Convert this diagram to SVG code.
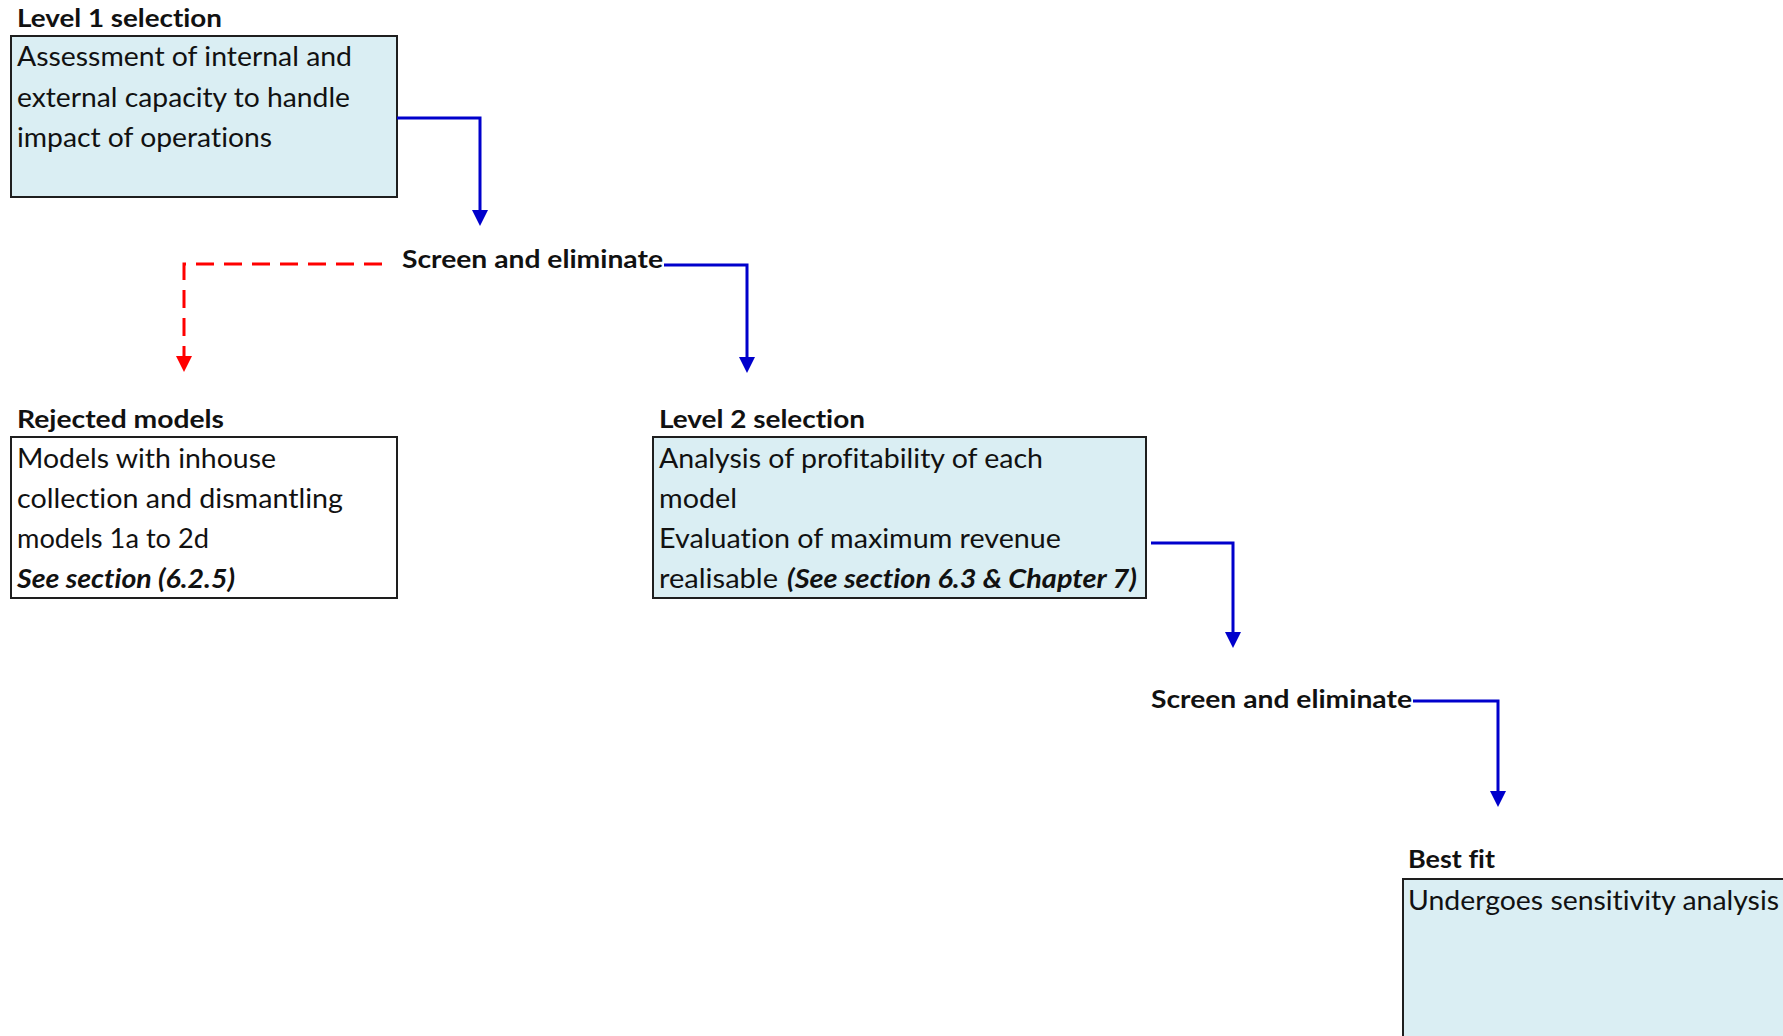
<svg xmlns="http://www.w3.org/2000/svg" width="1783" height="1036" viewBox="0 0 1783 1036">
  <style>
    .bg { fill: #ffffff; }
    .box { stroke: #1e1e1e; stroke-width: 2; }
    .blue { fill: #DAEEF3; }
    .white { fill: #ffffff; }
    text { font-variant-ligatures: none; }
    .title { font-family: Lato, "Open Sans", "Liberation Sans", sans-serif; font-weight: bold; font-size: 25px; fill: #111111; }
    .body { font-family: Lato, "Open Sans", "Liberation Sans", sans-serif; font-size: 26px; fill: #111111; }
    .ref { font-family: Lato, "Open Sans", "Liberation Sans", sans-serif; font-size: 26px; font-weight: bold; font-style: italic; fill: #111111; }
    .flow { fill: none; stroke: #0000CC; stroke-width: 3; }
    .reject { fill: none; stroke: #FF0000; stroke-width: 3; stroke-dasharray: 18 10; }
  </style>
  <defs>
    <marker id="arrowBlue" viewBox="0 0 16 16" markerWidth="16" markerHeight="16" markerUnits="userSpaceOnUse" refX="1" refY="8" orient="auto">
      <path d="M0,0 L16,8 L0,16 z" fill="#0000CC"/>
    </marker>
    <marker id="arrowRed" viewBox="0 0 16 16" markerWidth="16" markerHeight="16" markerUnits="userSpaceOnUse" refX="1" refY="8" orient="auto">
      <path d="M0,0 L16,8 L0,16 z" fill="#FF0000"/>
    </marker>
  </defs>

  <rect class="bg" x="0" y="0" width="1783" height="1036"/>

  <!-- Level 1 selection -->
  <g id="level1">
    <text class="title" x="17" y="27" textLength="205" lengthAdjust="spacingAndGlyphs">Level 1 selection</text>
    <rect class="box blue" x="11" y="36" width="386" height="161"/>
    <text class="body" x="17" y="66" textLength="335" lengthAdjust="spacingAndGlyphs">Assessment of internal and</text>
    <text class="body" x="17" y="107" textLength="333" lengthAdjust="spacingAndGlyphs">external capacity to handle</text>
    <text class="body" x="17" y="147" textLength="255" lengthAdjust="spacingAndGlyphs">impact of operations</text>
  </g>

  <!-- First screening step -->
  <g id="screen1">
    <text class="title" x="402" y="268" textLength="261" lengthAdjust="spacingAndGlyphs">Screen and eliminate</text>
  </g>

  <!-- Rejected models -->
  <g id="rejected">
    <text class="title" x="17" y="428" textLength="207" lengthAdjust="spacingAndGlyphs">Rejected models</text>
    <rect class="box white" x="11" y="437" width="386" height="161"/>
    <text class="body" x="17" y="468" textLength="259" lengthAdjust="spacingAndGlyphs">Models with inhouse</text>
    <text class="body" x="17" y="508" textLength="326" lengthAdjust="spacingAndGlyphs">collection and dismantling</text>
    <text class="body" x="17" y="548" textLength="192" lengthAdjust="spacingAndGlyphs">models 1a to 2d</text>
    <text class="ref" x="17" y="588" textLength="218" lengthAdjust="spacingAndGlyphs">See section (6.2.5)</text>
  </g>

  <!-- Level 2 selection -->
  <g id="level2">
    <text class="title" x="659" y="428" textLength="206" lengthAdjust="spacingAndGlyphs">Level 2 selection</text>
    <rect class="box blue" x="653" y="437" width="493" height="161"/>
    <text class="body" x="659" y="468" textLength="384" lengthAdjust="spacingAndGlyphs">Analysis of profitability of each</text>
    <text class="body" x="659" y="508" textLength="78" lengthAdjust="spacingAndGlyphs">model</text>
    <text class="body" x="659" y="548" textLength="402" lengthAdjust="spacingAndGlyphs">Evaluation of maximum revenue</text>
    <text class="body" x="659" y="588" textLength="119" lengthAdjust="spacingAndGlyphs">realisable</text>
    <text class="ref" x="787" y="588" textLength="350" lengthAdjust="spacingAndGlyphs">(See section 6.3 &amp; Chapter 7)</text>
  </g>

  <!-- Second screening step -->
  <g id="screen2">
    <text class="title" x="1151" y="708" textLength="261" lengthAdjust="spacingAndGlyphs">Screen and eliminate</text>
  </g>

  <!-- Best fit -->
  <g id="bestfit">
    <text class="title" x="1408" y="868" textLength="87" lengthAdjust="spacingAndGlyphs">Best fit</text>
    <rect class="box blue" x="1403" y="879" width="420" height="200"/>
    <text class="body" x="1408" y="910" textLength="371" lengthAdjust="spacingAndGlyphs">Undergoes sensitivity analysis</text>
  </g>

  <!-- Connectors -->
  <g id="connectors">
    <path class="flow" d="M397,118 H480 V211" marker-end="url(#arrowBlue)"/>
    <path class="reject" d="M382,264 H184 V357" marker-end="url(#arrowRed)"/>
    <path class="flow" d="M664,265 H747 V358" marker-end="url(#arrowBlue)"/>
    <path class="flow" d="M1151,543 H1233 V633" marker-end="url(#arrowBlue)"/>
    <path class="flow" d="M1413,701 H1498 V792" marker-end="url(#arrowBlue)"/>
  </g>
</svg>
